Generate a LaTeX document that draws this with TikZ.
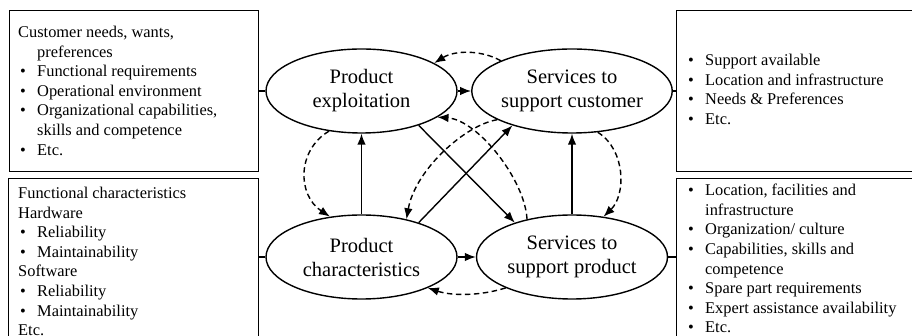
\documentclass[tikz,border=0pt]{standalone}
\usepackage{fontspec}
\setmainfont{Liberation Serif}
\usetikzlibrary{shapes.geometric,arrows.meta}
\newcommand\bl{\makebox[19pt][l]{\hspace{2pt}\textbullet}}
\newcommand\ind{\hspace*{19pt}}
\begin{document}
\begin{tikzpicture}[x=1pt,y=-1pt,
  box/.style={draw,line width=0.9pt,inner sep=0pt,anchor=north west},
  boxtext/.style={inner sep=0pt,anchor=north west,align=left,font=\fontsize{16.4}{19.6}\selectfont},
  ell/.style={draw,ellipse,line width=1.4pt,minimum width=191pt,minimum height=84pt,inner sep=0pt,align=center,font=\fontsize{20.5}{24}\selectfont},
  arr/.style={line width=1.4pt,-{Latex[length=11pt,width=8.5pt]}},
  darr/.style={line width=1.4pt,dash pattern=on 5.5pt off 3.5pt,-{Latex[length=11pt,width=8.5pt]}},
  link/.style={line width=1.4pt}]
\useasboundingbox (0,0) rectangle (912,336);
\clip (0,0) rectangle (912,336);
% boxes
\node[box,minimum width=249pt,minimum height=161pt] (tlbox) at (9,10) {};
\node[box,minimum width=250pt,minimum height=200pt] (blbox) at (8,178) {};
\node[box,minimum width=260pt,minimum height=161pt] (trbox) at (676,10) {};
\node[box,minimum width=260pt,minimum height=200pt] (brbox) at (676,178) {};
\node[boxtext] (tltext) at (18,26) {Customer needs, wants,\\
\ind preferences\\
\bl Functional requirements\\
\bl Operational environment\\
\bl Organizational capabilities,\\
\ind skills and competence\\
\bl Etc.};
\node[boxtext] (bltext) at (18,187) {Functional characteristics\\
Hardware\\
\bl Reliability\\
\bl Maintainability\\
Software\\
\bl Reliability\\
\bl Maintainability\\
Etc.};
\node[boxtext] (trtext) at (686,54) {\bl Support available\\
\bl Location and infrastructure\\
\bl Needs \& Preferences\\
\bl Etc.};
\node[boxtext] (brtext) at (686,184) {\bl Location, facilities and\\
\ind infrastructure\\
\bl Organization/ culture\\
\bl Capabilities, skills and\\
\ind competence\\
\bl Spare part requirements\\
\bl Expert assistance availability\\
\bl Etc.};
% ellipses
\node[ell] (pe) at (361.5,91) {Product\\exploitation};
\node[ell] (sc) at (572,91) {Services to\\support customer};
\node[ell] (pc) at (361.5,257) {Product\\characteristics};
\node[ell] (sp) at (572,257) {Services to\\support product};
% links to boxes
\draw[link] (pe.west) -- (pe.west -| tlbox.east);
\draw[link] (pc.west) -- (pc.west -| blbox.east);
\draw[link] (sc.east) -- (sc.east -| trbox.west);
\draw[link] (sp.east) -- (sp.east -| brbox.west);
% solid arrows
\draw[arr] (pe) -- (sc);
\draw[arr] (pc) -- (sp);
\draw[arr] (pc) -- (pe);
\draw[arr] (sp) -- (sc);
\draw[arr] (pe.-31) -- (sp.149);
\draw[arr] (pc.31) -- (sc.210);
% dashed arrows
\draw[darr] (sc.157) .. controls (482,50) and (455,50) .. (pe.21);
\draw[darr] (pe.231) .. controls (297,150) and (297,195) .. (pc.128);
\draw[darr] (sc.302) .. controls (626,150) and (626,195) .. (sp.52);
\draw[darr] (sp.205) .. controls (480,296) and (452,296) .. (pc.335);
\draw[darr] (sc.201) .. controls (465,125) and (415,170) .. (pc.40);
\draw[darr] (sp.140) .. controls (525,180) and (478,120) .. (pe.341);
\end{tikzpicture}
\end{document}
